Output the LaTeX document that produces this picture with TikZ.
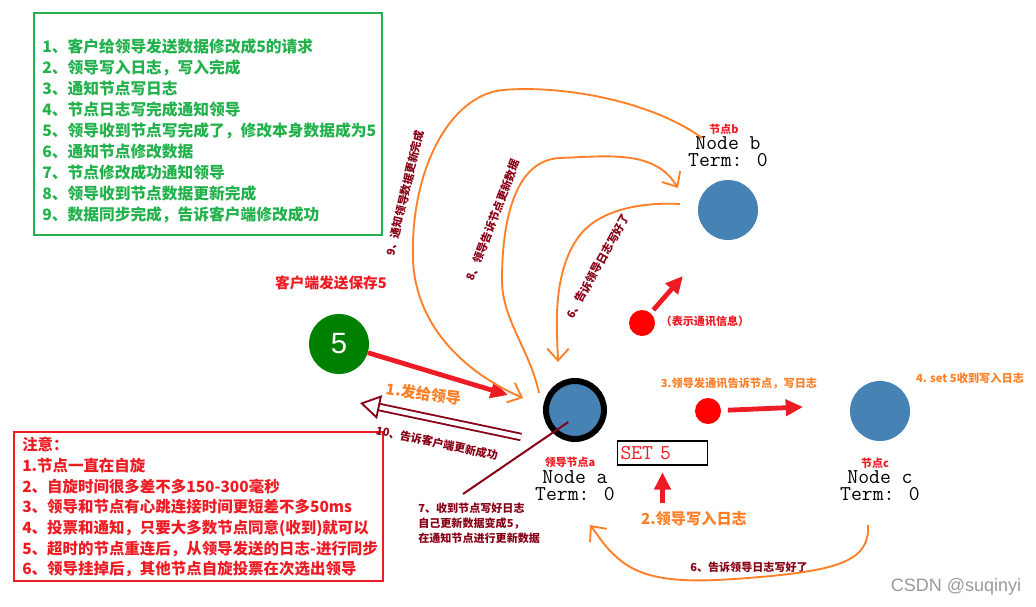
\documentclass[tikz,border=0pt]{standalone}
\usepackage{fontspec}
\setmainfont{Noto Sans CJK SC}
\newfontfamily\arialfont{Liberation Sans}
\usetikzlibrary{arrows.meta, positioning, fit}
\definecolor{stepgreen}{RGB}{34,177,76}
\definecolor{notered}{RGB}{237,28,36}
\definecolor{msgorange}{RGB}{255,127,39}
\definecolor{darkred}{RGB}{136,0,21}
\definecolor{nodeblue}{RGB}{70,130,180}
\definecolor{clientgreen}{RGB}{0,128,0}
\tikzset{
  % Raft nodes
  raftnode/.style={circle, fill=nodeblue, minimum size=45pt, inner sep=0pt},
  leadernode/.style={circle, fill=nodeblue, draw=black, line width=4.5pt, minimum size=43.5pt, inner sep=0pt},
  clientnode/.style={circle, fill=clientgreen, text=white, minimum size=45pt, inner sep=0pt,
    font=\arialfont\fontsize{22}{22}\selectfont},
  msgdot/.style={circle, fill=red, minimum size=19.5pt, inner sep=0pt},
  nodetext/.style={font=\ttfamily\fontsize{15.8}{13}\selectfont, align=center, inner sep=0pt},
  nodename/.style={font=\bfseries\fontsize{8.2}{9}\selectfont, text=notered, inner sep=0pt},
  setbox/.style={draw=black, line width=0.8pt, minimum height=18pt, text width=63pt, align=left,
    inner xsep=2pt, inner ysep=0pt, font=\ttfamily\fontsize{15.8}{13}\selectfont, text=notered},
  % Text blocks
  steptext/.style={font=\bfseries\fontsize{11.8}{15.75}\selectfont, text=stepgreen, align=left, inner sep=0pt},
  stepframe/.style={draw=stepgreen, line width=1.5pt, inner sep=0pt},
  notetext/.style={font=\bfseries\fontsize{11.6}{15.5}\selectfont, text=notered, align=left, inner sep=0pt},
  noteframe/.style={draw=notered, line width=1.5pt, inner sep=0pt},
  orangebig/.style={font=\bfseries\fontsize{11.4}{12}\selectfont, text=msgorange, inner sep=0pt},
  orangesmall/.style={font=\bfseries\fontsize{8.4}{9}\selectfont, text=msgorange, inner sep=0pt},
  redsmall/.style={font=\bfseries\fontsize{8.3}{11.25}\selectfont, text=darkred, inner sep=0pt},
  redlabel/.style={font=\bfseries\fontsize{#1}{#1}\selectfont, text=notered, inner sep=0pt},
  watermark/.style={font=\arialfont\fontsize{13.5}{14}\selectfont, text=black!40, inner sep=0pt},
  % Connectors
  redarrow/.style={-{Triangle[length=13pt,width=12pt]}, line width=3.6pt, notered},
  handarrow/.style={-{Straight Barb[length=9pt,width=16pt]}, msgorange, line width=1.4pt},
  backarrow/.style={darkred, line width=1.4pt, double=white, double distance=3.5pt,
    -{Triangle[open,length=15pt,width=18pt]}},
  pointer/.style={darkred, line width=1.5pt}
}
\begin{document}
\begin{tikzpicture}[x=0.75pt, y=-0.75pt]
  \useasboundingbox (0,0) rectangle (1036,607);

  % Steps
  \node[steptext, anchor=north west] (steps) at (42,39) {1、客户给领导发送数据修改成5的请求\\
    2、领导写入日志，写入完成\\3、通知节点写日志\\4、节点日志写完成通知领导\\
    5、领导收到节点写完成了，修改本身数据成为5\\6、通知节点修改数据\\
    7、节点修改成功通知领导\\8、领导收到节点数据更新完成\\9、数据同步完成，告诉客户端修改成功};
  \node[fit={(34,13) (382,235)}, stepframe] (stepsbox) {};

  % Notes
  \node[notetext, anchor=north west] (notes) at (22,437) {注意：\\1.节点一直在自旋\\
    2、自旋时间很多差不多150-300毫秒\\3、领导和节点有心跳连接时间更短差不多50ms\\
    4、投票和通知，只要大多数节点同意(收到)就可以\\5、超时的节点重连后，从领导发送的日志-进行同步\\
    6、领导挂掉后，其他节点自旋投票在次选出领导};
  \node[fit={(14,432) (383,581)}, noteframe] (notesbox) {};

  % Client
  \node[redlabel=11] (clientlabel) at (331,283) {客户端发送保存5};
  \node[clientnode] (five) at (339,344) {5};

  % Nodes
  \node[leadernode] (a) at (575,410) {};
  \node[nodename] (aname) at (570,462) {领导节点a};
  \node[nodetext] (aterm) at (575,486) {Node a\\Term: 0};
  \node[raftnode] (b) at (728,210) {};
  \node[nodename] (bname) at (724,129) {节点b};
  \node[nodetext] (bterm) at (728,152) {Node b\\Term: 0};
  \node[raftnode] (c) at (880,411) {};
  \node[nodename] (cname) at (875,463) {节点c};
  \node[nodetext] (cterm) at (880,486) {Node c\\Term: 0};
  \node[setbox] (log) at (662.5,453) {SET 5};

  % Messages
  \node[msgdot] (msgc) at (708,411) {};
  \node[msgdot] (msgb) at (642,323) {};
  \node[redlabel=8.3] (msginfo) at (705,321) {（表示通讯信息）};

  % Labels
  \node[orangebig, rotate=-8] (send) at (424,394) {1.发给领导};
  \node[orangebig] (writelog) at (694,519) {2.领导写入日志};
  \node[orangesmall] (notify) at (739,384) {3.领导发通讯告诉节点，写日志};
  \node[orangesmall] (setc) at (970,378) {4. set 5收到写入日志};
  \node[redsmall, rotate=-12] (reply) at (437,443) {10、告诉客户端更新成功};
  \node[redsmall, align=left, anchor=north west] (selfupdate) at (418,503)
    {7、收到节点写好日志\\自己更新数据变成5，\\在通知节点进行更新数据};
  \node[redsmall, rotate=76.5] (done9) at (405,193) {9、通知领导数据更新完成};
  \node[redsmall, rotate=69] (tell8) at (493,220) {8、领导告诉节点更新数据};
  \node[redsmall, rotate=61] (ack6b) at (598,266) {6、告诉领导日志写好了};
  \node[redsmall] (ack6c) at (749,567) {6、告诉领导日志写好了};
  \node[watermark] (mark) at (956,587) {CSDN @suqinyi};

  % Free ends
  \coordinate (sendtip) at (508,395);
  \coordinate (replyfrom) at (521,437);
  \coordinate (replytip) at (360,403);
  \coordinate (pointto) at (463,494);
  \coordinate (ctip) at (803,407);
  \coordinate (btip) at (683,276);
  \coordinate (c9from) at (702,138);
  \coordinate (c9to) at (523,398);
  \coordinate (c8from) at (539,393);
  \coordinate (c8to) at (678,188);
  \coordinate (c6from) at (680,204);
  \coordinate (c6to) at (558,362);
  \coordinate (c6cfrom) at (868,525);
  \coordinate (c6cto) at (590,525);

  % Arrows
  \draw[redarrow] (five) -- (sendtip);
  \draw[backarrow] (replyfrom) -- (replytip);
  \draw[pointer] ([xshift=-5pt,yshift=-9pt]a.center) -- (pointto);
  \draw[redarrow, shorten <=6pt, shorten >=5pt] (log.south |- writelog.north) -- (log.south);
  \draw[redarrow, shorten <=5pt] (msgc) -- (ctip);
  \draw[redarrow, shorten <=3pt] (msgb) -- (btip);

  % Hand drawn curves
  \draw[handarrow] (c9from) .. controls (650,100) and (560,85) .. (503,90)
    .. controls (450,95) and (410,170) .. (413,260)
    .. controls (416,330) and (470,375) .. (c9to);
  \draw[handarrow] (c8from) .. controls (530,350) and (502,320) .. (502,280)
    .. controls (502,220) and (515,160) .. (560,158)
    .. controls (610,156) and (655,150) .. (c8to);
  \draw[handarrow] (c6from) .. controls (640,202) and (600,210) .. (580,235)
    .. controls (560,260) and (556,300) .. (557,330)
    .. controls (557,345) and (558,355) .. (c6to);
  \draw[handarrow] (c6cfrom) .. controls (870,560) and (840,570) .. (760,577)
    .. controls (700,582) and (650,585) .. (620,560)
    .. controls (605,548) and (598,535) .. (c6cto);
\end{tikzpicture}
\end{document}
